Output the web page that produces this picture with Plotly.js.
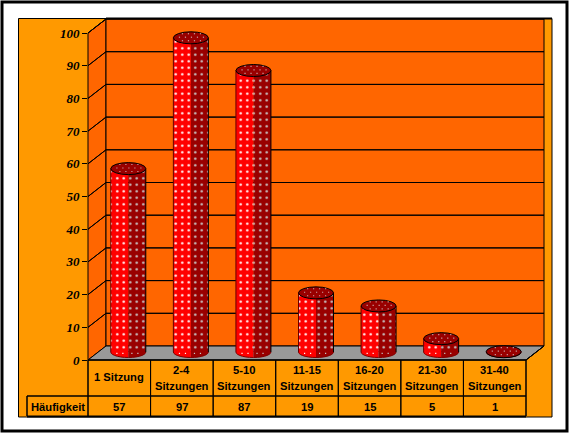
<!DOCTYPE html>
<html><head><meta charset="utf-8">
<script src="https://cdn.plot.ly/plotly-3.0.0.min.js"></script>
<style>html,body{margin:0;padding:0;background:#fff}#c{width:569px;height:434px}</style>
</head><body><div id="c"></div>
<script>
const categoriesTop = ['', '2-4', '5-10', '11-15', '16-20', '21-30', '31-40'];
const categoriesBottom = ['1 Sitzung', 'Sitzungen', 'Sitzungen', 'Sitzungen', 'Sitzungen', 'Sitzungen', 'Sitzungen'];
const values = [57, 97, 87, 19, 15, 5, 1];
const rowLabel = 'Häufigkeit';
const yTicks = [0,10,20,30,40,50,60,70,80,90,100];

const W=569,H=434, L=88, R=544, T=19, B=360;
const catW=(526-88)/7, unitY=3.27, depthX=18;
const xMax=(R-L)/catW, yMax=(B-T)/unitY;
const midX=(depthX/2)/catW, baseY=8/unitY, topY=5/unitY, rx=17.5/catW, ryTop=6/unitY, ryBase=5.5/unitY;
const line={color:'#000',width:1};
const shapes=[];
const poly=(pts,fill,ln,layer)=>shapes.push({type:'path',xref:'paper',yref:'paper',layer:layer||'below',
  path:'M'+pts.map(p=>((p[0]-L)/(R-L))+','+((B-p[1])/(B-T))).join('L')+'Z',fillcolor:fill,line:ln||line});
const seg=(a,b,w,layer)=>poly([a,b],'rgba(0,0,0,0)',{color:'#000',width:w||1},layer);

// frame
poly([[2,2],[567,2],[567,431],[2,431]],'#ffffff',{color:'#000',width:3});
poly([[18.5,18.5],[552,18.5],[552,417],[18.5,417]],'#ff9900',{color:'#000',width:1});
seg([106,18.5],[552,18.5],2);
seg([27,416.5],[526,416.5],2);
// walls
poly([[88,360],[88,33],[106,19],[106,346]],'#ff6600');
poly([[106,19],[544,19],[544,346],[106,346]],'#ff6600');
poly([[88,360],[106,346],[544,346],[526,360]],'#999999');
// gridlines at the tick values
yTicks.forEach(t=>{ if(t===0) return;
  const yb=346-t*unitY, yf=360-t*unitY;
  seg([88,yf],[106,yb]); seg([106,yb],[544,yb]);
});
// table
seg([88,360],[526,360]); seg([27,396],[526,396]); seg([27,396],[27,416]);
for(let i=0;i<=7;i++) seg([88+i*catW,360],[88+i*catW,416]);
seg([526,360],[544,346]);

function arc(cx,cy,a0,a1){ // lower-half arc points, angles from bottom centre
  const pts=[]; for(let k=0;k<=14;k++){const a=a0+(a1-a0)*k/14; pts.push((cx+rx*Math.sin(a))+','+(cy-ryBase*Math.cos(a)));}
  return pts;
}
const dot=(x,y,col)=>shapes.push({xref:'x',yref:'y',layer:'above',type:'rect',x0:x,x1:x+1.2/catW,y0:y,y1:y+1.2/unitY,fillcolor:col,line:{width:0}});
const centers=values.map((v,i)=>i+0.5+midX);
centers.forEach((c,i)=>{
  const top=values[i]+topY;
  const dataShape=o=>shapes.push(Object.assign({xref:'x',yref:'y',layer:'above'},o));
  // base of the cylinder: filled, seamless, with an arc outline
  dataShape({type:'path',path:'M'+c+','+(baseY+1/unitY)+' L'+arc(c,baseY,-Math.PI/2,0).join(' L')+' Z',fillcolor:'#ff0000',line:{width:0}});
  dataShape({type:'path',path:'M'+c+','+(baseY+1/unitY)+' L'+arc(c,baseY,0,Math.PI/2).join(' L')+' Z',fillcolor:'#990000',line:{width:0}});
  dataShape({type:'path',path:'M'+arc(c,baseY,-Math.PI/2,Math.PI/2).join(' L'),line:{color:'#800000',width:1}});
  [-12,-6].forEach(o=>dot(c+o/catW,baseY-2/unitY,'#ffffff'));
  [3,9].forEach(o=>dot(c+o/catW,baseY-2/unitY,'#c8c8c8'));
  // side outlines
  dataShape({type:'line',x0:c-rx,x1:c-rx,y0:baseY,y1:top,line:{color:'#660000',width:1}});
  dataShape({type:'line',x0:c+rx,x1:c+rx,y0:baseY,y1:top,line:{color:'#000',width:1}});
  // top of the cylinder
  dataShape({type:'circle',x0:c-rx,x1:c+rx,y0:top-ryTop,y1:top+ryTop,fillcolor:'#990000',line:{color:'#000',width:1}});
  for(let a=-2;a<=2;a++) for(let b=-1;b<=1;b++){
    const ox=(a*6+(b?3:0))/catW, oy=b*3.5/unitY;
    if((ox*ox)/(rx*rx)+(oy*oy)/(ryTop*ryTop)<0.75) dot(c+ox,top+oy,'#c8a0a0');
  }
});

const bar=(x,bg,fg)=>({type:'bar',x:x,y:values.map(v=>v+topY-baseY),base:values.map(()=>baseY),width:values.map(()=>rx),
  marker:{color:bg,line:{color:'#000',width:0},pattern:{shape:'.',bgcolor:bg,fgcolor:fg,size:6.5,solidity:0.12,fillmode:'replace'}},
  hoverinfo:'skip',showlegend:false});
const traces=[bar(centers.map(c=>c-rx/2),'#ff0000','#ffffff'),bar(centers.map(c=>c+rx/2),'#990000','#c8c8c8')];

const annotations=[];
const ann=(xp,yp,text)=>annotations.push({xref:'paper',yref:'paper',x:(xp-L)/(R-L),y:(B-yp)/(B-T),text,showarrow:false,
  xanchor:'center',yanchor:'middle',font:{family:'Liberation Sans',size:11.2,color:'#000',weight:700}});
values.forEach((v,i)=>{
  const cx=88+(i+0.5)*catW;
  if(categoriesTop[i]){ann(cx,370,categoriesTop[i]);ann(cx,385.5,categoriesBottom[i]);}
  else ann(cx,377,categoriesBottom[i]);
  ann(cx,407,String(v));
});
ann(57.5,407,rowLabel);

Plotly.newPlot('c',traces,{
  width:W,height:H,showlegend:false,paper_bgcolor:'#fff',plot_bgcolor:'rgba(0,0,0,0)',
  margin:{l:L,r:W-R,t:T,b:H-B,pad:0},barmode:'overlay',
  xaxis:{range:[0,xMax],showgrid:false,zeroline:false,showline:false,showticklabels:false,ticks:'',fixedrange:true},
  yaxis:{range:[0,yMax],tickmode:'array',tickvals:yTicks,ticktext:yTicks.map(String),showgrid:false,zeroline:false,showline:false,
    ticks:'outside',ticklen:5,tickcolor:'#000',tickwidth:1,fixedrange:true,
    tickfont:{family:'Liberation Serif',size:13,color:'#000',weight:700,style:'italic'}},
  shapes,annotations
},{displayModeBar:false,staticPlot:true});
</script></body></html>
